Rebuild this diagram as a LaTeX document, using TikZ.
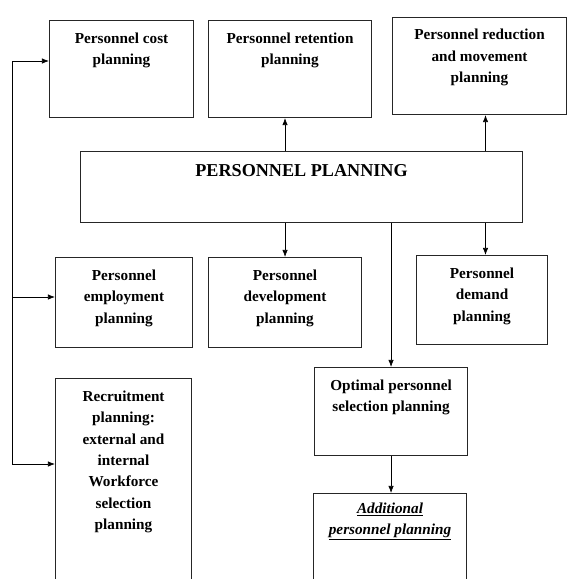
\documentclass[tikz,border=0pt]{standalone}
\usepackage{fontspec}
\setmainfont{Liberation Serif}
\usetikzlibrary{positioning,arrows.meta}

\tikzset{
  box/.style={draw=black!85, line width=0.9pt, inner sep=0pt, anchor=north west},
  lbl/.style={font=\bfseries\fontsize{13}{18.3}\selectfont, align=center, inner sep=0pt},
  conn/.style={->, line width=0.6pt},
}

\begin{document}
\begin{tikzpicture}[x=0.03cm, y=-0.03cm, >={Latex[length=6pt,width=4.6pt]}]
    \useasboundingbox (0,0) rectangle (567,579);
    \clip (0,0) rectangle (567,579);
    % boxes
    \node[box, minimum width=4.32cm, minimum height=2.91cm] (cost) at (49,20) {};
    \node[box, minimum width=4.89cm, minimum height=2.91cm] (retention) at (208,20) {};
    \node[box, minimum width=5.22cm, minimum height=2.91cm] (reduction) at (392,17) {};
    \node[box, minimum width=13.26cm, minimum height=2.13cm] (main) at (80,151) {};
    \node[box, minimum width=4.11cm, minimum height=2.70cm] (employment) at (55,257) {};
    \node[box, minimum width=4.59cm, minimum height=2.70cm] (development) at (208,257) {};
    \node[box, minimum width=3.93cm, minimum height=2.67cm] (demand) at (416,255) {};
    \node[box, minimum width=4.59cm, minimum height=2.64cm] (optimal) at (314,367) {};
    \node[box, minimum width=4.59cm, minimum height=3.30cm] (additional) at (313,493) {};
    \node[box, minimum width=4.08cm, minimum height=6.80cm] (recruitment) at (55,378) {};
    % labels
    \node[lbl, below=0.37cm of cost.north] (costtxt) {Personnel cost\\planning};
    \node[lbl, below=0.37cm of retention.north] (retentiontxt) {Personnel retention\\planning};
    \node[lbl, below=0.36cm of reduction.north] (reductiontxt) {Personnel reduction\\and movement\\planning};
    \node[lbl, font=\bfseries\fontsize{15.5}{18}\selectfont, below=0.39cm of main.north] (maintxt) {PERSONNEL PLANNING};
    \node[lbl, below=0.37cm of employment.north] (employmenttxt) {Personnel\\employment\\planning};
    \node[lbl, below=0.37cm of development.north] (developmenttxt) {Personnel\\development\\planning};
    \node[lbl, below=0.37cm of demand.north] (demandtxt) {Personnel\\demand\\planning};
    \node[lbl, below=0.37cm of optimal.north] (optimaltxt) {Optimal personnel\\selection planning};
    \node[lbl, below=0.28cm of additional.north] (additionaltxt) {\underline{\textit{Additional}}\\\underline{\textit{personnel planning}}};
    \node[lbl, below=0.37cm of recruitment.north] (recruitmenttxt) {Recruitment\\planning:\\external and\\internal\\Workforce\\selection\\planning};
    % connectors
    \coordinate (bustop) at (12,61);
    \coordinate (busemp) at (12,297);
    \coordinate (busrec) at (12,464);
    \coordinate (rcol) at (485.5,0);
    \draw[line width=0.6pt] (bustop) -- (busrec);
    \draw[conn] (bustop) -- (bustop -| cost.west);
    \draw[conn] (busemp) -- (busemp -| employment.west);
    \draw[conn] (busrec) -- (busrec -| recruitment.west);
    \draw[conn] (main.north -| development.north) -- (retention.south -| development.north);
    \draw[conn] (main.north -| rcol) -- (reduction.south -| rcol);
    \draw[conn] (main.south -| development.north) -- (development.north);
    \draw[conn] (main.south -| optimal.north) -- (optimal.north);
    \draw[conn] (main.south -| rcol) -- (demand.north -| rcol);
    \draw[conn] (optimal.south) -- (optimal.south |- additional.north);
\end{tikzpicture}
\end{document}
